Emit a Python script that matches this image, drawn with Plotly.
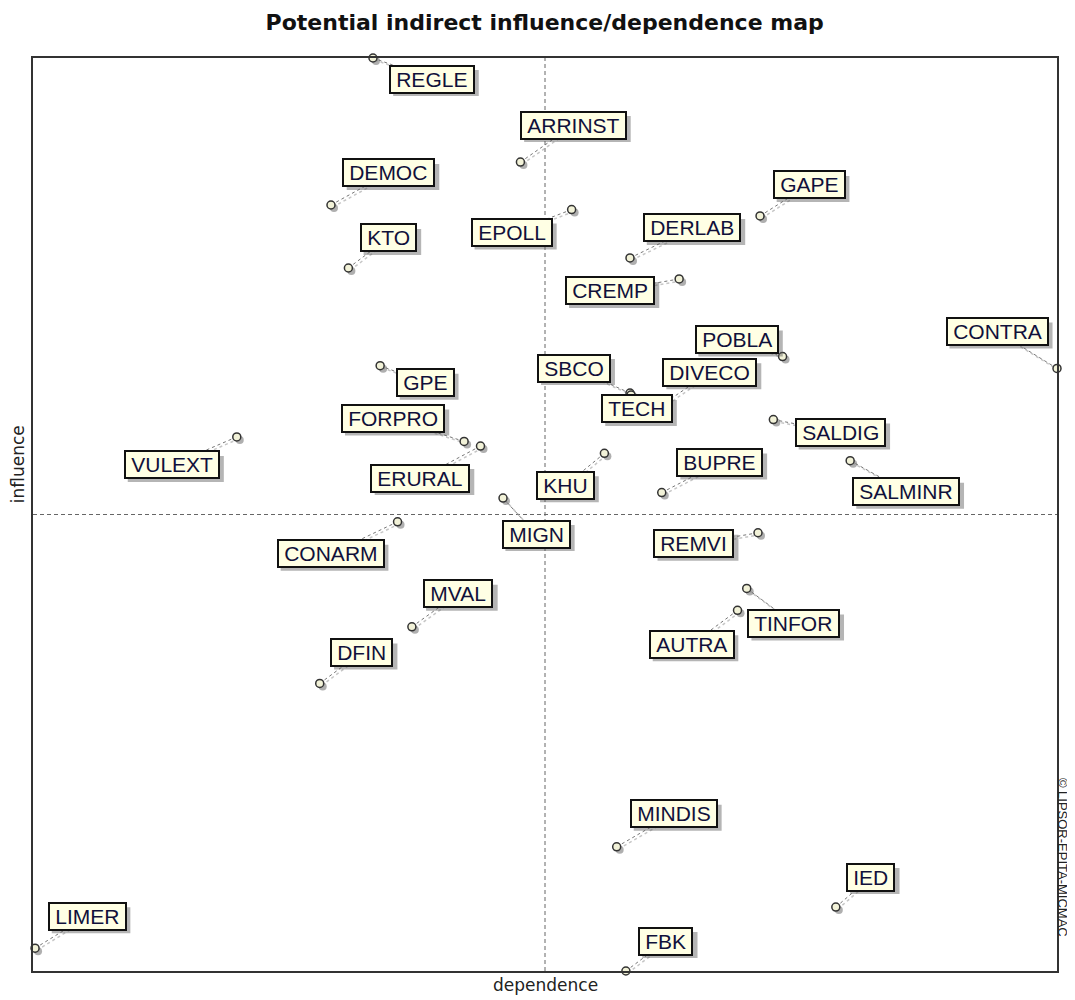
import plotly.graph_objects as go

# variables of the MICMAC indirect influence/dependence map
names = [
    "REGLE", "ARRINST", "DEMOC", "GAPE", "EPOLL", "DERLAB", "KTO", "CREMP",
    "CONTRA", "POBLA", "GPE", "SBCO", "TECH", "DIVECO", "FORPRO", "ERURAL",
    "VULEXT", "SALDIG", "KHU", "BUPRE", "SALMINR", "MIGN", "CONARM", "REMVI",
    "MVAL", "TINFOR", "AUTRA", "DFIN", "MINDIS", "IED", "LIMER", "FBK",
]
dependence = [
    33.2, 47.6, 29.1, 71.0, 52.6, 58.3, 30.8, 63.1,
    100.0, 73.2, 33.9, 58.3, 58.4, 61.8, 42.1, 43.7,
    19.9, 72.3, 55.8, 61.4, 79.8, 45.9, 35.6, 70.8,
    37.0, 69.7, 68.8, 28.0, 57.0, 78.4, 0.2, 57.9,
]
influence = [
    100.0, 88.6, 83.9, 82.7, 83.4, 78.1, 77.0, 75.8,
    66.0, 67.3, 66.3, 63.3, 63.1, 62.3, 58.0, 57.5,
    58.5, 60.4, 56.7, 52.4, 55.9, 51.8, 49.2, 48.0,
    37.7, 41.9, 39.5, 31.5, 13.6, 7.0, 2.5, 0.0,
]

# label placement (pixel offset of the label centre from its point, y down)
label_offsets = [
    (59, 21), (53, -37), (58, -32), (49, -31), (-60, 23), (62, -30), (40, -30), (-69, 12),
    (-60, -37), (-46, -17), (45, 17), (-56, -25), (6, 14), (44, -30), (-71, -23), (-60, 32),
    (-65, 28), (67, 13), (-39, 32), (58, -30), (56, 31), (33, 36), (-67, 32), (-64, 11),
    (46, -33), (47, 35), (-46, 34), (42, -31), (57, -33), (35, -30), (52, -32), (40, -30),
]

# page has an 8px body margin, so the figure is a bit smaller than the window
W, H = 1067, 992
ML, MR, MT, MB = 25, 18, 50, 29
px_x = (W - ML - MR) / 100.0
px_y = (H - MT - MB) / 100.0

FONT = "Liberation Sans, Arial, sans-serif"
LABEL_SIZE = 21
THIN = "\u2009"

# rough Arial advance widths (em) to size the label shadows
CHAR_W = {
    "A": .667, "B": .667, "C": .722, "D": .722, "E": .667, "F": .611, "G": .778,
    "H": .722, "I": .278, "K": .667, "L": .556, "M": .833, "N": .722, "O": .778,
    "P": .667, "R": .722, "S": .667, "T": .611, "U": .722, "V": .667, "X": .667,
}


def box_size(text):
    w = sum(CHAR_W.get(c, .667) for c in text) * LABEL_SIZE + 0.4 * LABEL_SIZE + 6
    return w, 26


fig = go.Figure()

# leader lines (shadow then dotted line)
for x, y, (dx, dy) in zip(dependence, influence, label_offsets):
    lx, ly = x + dx / px_x, y - dy / px_y
    fig.add_trace(go.Scatter(
        x=[x + 2 / px_x, lx + 2 / px_x], y=[y - 2 / px_y, ly - 2 / px_y],
        mode="lines", line=dict(color="rgba(160,160,160,0.6)", width=1.5, dash="dot"),
        hoverinfo="skip", showlegend=False, cliponaxis=False,
    ))
    fig.add_trace(go.Scatter(
        x=[x, lx], y=[y, ly],
        mode="lines", line=dict(color="#777777", width=1, dash="dot"),
        hoverinfo="skip", showlegend=False, cliponaxis=False,
    ))

# point shadows
fig.add_trace(go.Scatter(
    x=[v + 3 / px_x for v in dependence], y=[v - 3 / px_y for v in influence],
    mode="markers", marker=dict(size=8, color="rgba(110,110,110,0.55)", line=dict(width=0)),
    hoverinfo="skip", showlegend=False, cliponaxis=False,
))
# points
fig.add_trace(go.Scatter(
    x=dependence, y=influence, text=names,
    mode="markers",
    marker=dict(size=8, color="#F2F2D8", line=dict(color="#333333", width=1.5)),
    hovertemplate="%{text}<br>dependence %{x}<br>influence %{y}<extra></extra>",
    showlegend=False, cliponaxis=False,
))

# label shadows (pixel-sized rectangles) and labels
for name, x, y, (dx, dy) in zip(names, dependence, influence, label_offsets):
    cx, cy = x + dx / px_x, y - dy / px_y
    bw, bh = box_size(name)
    fig.add_shape(
        type="rect", xref="x", yref="y", xsizemode="pixel", ysizemode="pixel",
        xanchor=cx, yanchor=cy,
        x0=-bw / 2 + 4, x1=bw / 2 + 4, y0=-bh / 2 - 4, y1=bh / 2 - 4,
        fillcolor="rgba(90,90,90,0.45)", line=dict(width=0), layer="above",
    )
    fig.add_annotation(
        x=cx, y=cy, text=THIN + name + THIN, showarrow=False,
        font=dict(family=FONT, size=LABEL_SIZE, color="#10103a"),
        bgcolor="#FFFFE4", bordercolor="#111111",
        borderwidth=2, borderpad=1,
    )

# quadrant cross
fig.add_shape(type="line", x0=50, x1=50, y0=0, y1=100,
              line=dict(color="#666666", width=1, dash="4px,3px"), layer="below")
fig.add_shape(type="line", x0=0, x1=100, y0=50, y1=50,
              line=dict(color="#666666", width=1, dash="4px,3px"), layer="below")

# axis captions and copyright
fig.add_annotation(x=0.5, y=0, xref="paper", yref="paper", yshift=-14,
                   xanchor="center", yanchor="middle",
                   text="dependence", showarrow=False,
                   font=dict(family="DejaVu Sans, sans-serif", size=17, color="#222222"))
fig.add_annotation(x=0, y=0.555, xref="paper", yref="paper", xshift=-15,
                   xanchor="center", yanchor="middle",
                   text="influence", showarrow=False, textangle=-90,
                   font=dict(family="DejaVu Sans, sans-serif", size=17, color="#222222"))
fig.add_annotation(x=1, y=0.125, xref="paper", yref="paper", xshift=5,
                   xanchor="center", yanchor="middle",
                   text="© LIPSOR-EPITA-MICMAC", showarrow=False, textangle=90,
                   font=dict(family=FONT, size=13, color="#222222"))

fig.update_layout(
    width=W, height=H,
    margin=dict(l=ML, r=MR, t=MT, b=MB),
    paper_bgcolor="white", plot_bgcolor="white",
    title=dict(text="<b>Potential indirect influence/dependence map</b>",
               x=0.503, xanchor="center", y=0.986, yanchor="middle",
               font=dict(family="DejaVu Sans, sans-serif", size=22, color="#111111")),
    xaxis=dict(range=[0, 100], showgrid=False, zeroline=False, showticklabels=False,
               ticks="", showline=True, linecolor="#333333", linewidth=2, mirror=True),
    yaxis=dict(range=[0, 100], showgrid=False, zeroline=False, showticklabels=False,
               ticks="", showline=True, linecolor="#333333", linewidth=2, mirror=True),
)

fig.write_html("out.html")
